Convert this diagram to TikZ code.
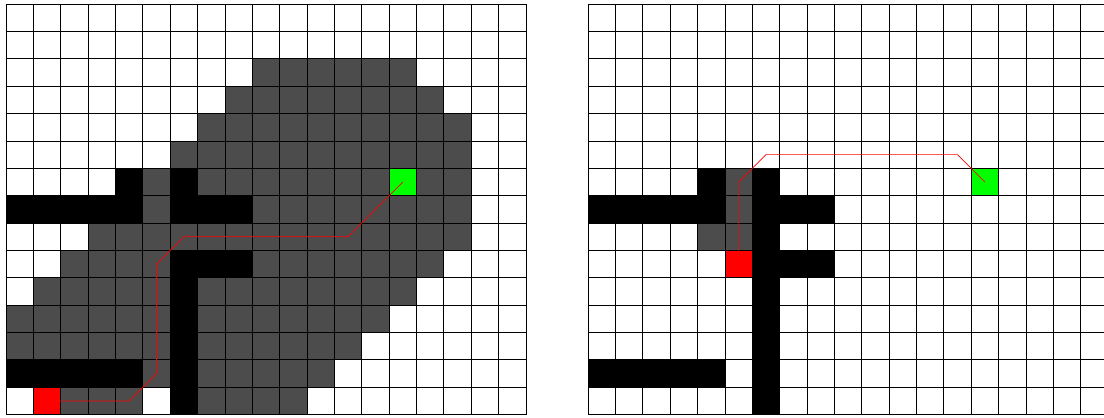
\documentclass[tikz,border=0pt]{standalone}
\usepackage{tikz}

\begin{document}
\begin{tikzpicture}[
  x=1cm, y=-1cm,
  seen/.style={fill=black!70},
  wall/.style={fill=black},
  gridln/.style={draw=black, line width=0.9pt},
  startcell/.style={fill=red, minimum size=1cm, inner sep=0pt, outer sep=0pt},
  goalcell/.style={fill=green, minimum size=1cm, inner sep=0pt, outer sep=0pt},
  route/.style={draw=red, line width=0.7pt, line join=round},
]
\useasboundingbox (-0.22,-0.15) rectangle (40.12,15.09);
\clip (-0.22,-0.15) rectangle (40.12,15.09);

% ---------------- Left grid (searched cells) ----------------
\foreach \r/\a/\b in {2/9/14, 3/8/15, 4/7/16, 5/6/16, 6/5/5, 6/7/16, 7/5/5, 7/9/16,
                      8/3/16, 9/2/5, 9/9/15, 10/1/5, 10/7/14, 11/0/5, 11/7/13,
                      12/0/5, 12/7/12, 13/5/5, 13/7/11, 14/2/4, 14/7/10}
  \fill[seen] (\a,\r) rectangle (\b+1,\r+1);
\foreach \r/\a/\b in {6/4/4, 6/6/6, 7/0/4, 7/6/8, 9/6/8, 10/6/6, 11/6/6,
                      12/6/6, 13/0/4, 13/6/6, 14/6/6}
  \fill[wall] (\a,\r) rectangle (\b+1,\r+1);
\node[startcell] (startL) at (1.5,14.5) {};
\node[goalcell]  (goalL)  at (14.5,6.5) {};
\draw[gridln] (0,0) grid (19,15);
\draw[route] (startL.center) -- (4.5,14.5) -- (5.5,13.5) -- (5.5,9.5)
  -- (6.5,8.5) -- (12.5,8.5) -- (goalL.center);

% ---------------- Right grid (replanned) ----------------
\begin{scope}[xshift=21.27cm]
  \foreach \r/\a/\b in {6/5/5, 7/5/5, 8/4/5}
    \fill[seen] (\a,\r) rectangle (\b+1,\r+1);
  \foreach \r/\a/\b in {6/4/4, 7/0/4, 7/6/8, 9/6/8, 13/0/4}
    \fill[wall] (\a,\r) rectangle (\b+1,\r+1);
  \fill[wall] (6,6) rectangle (7,15);
  \node[startcell] (startR) at (5.5,9.5) {};
  \node[goalcell]  (goalR)  at (14.5,6.5) {};
  \draw[gridln] (0,0) grid (19,15);
  \draw[route] (startR.center) -- (5.5,6.5) -- (6.5,5.5) -- (13.5,5.5)
    -- (goalR.center);
\end{scope}

\end{tikzpicture}
\end{document}
